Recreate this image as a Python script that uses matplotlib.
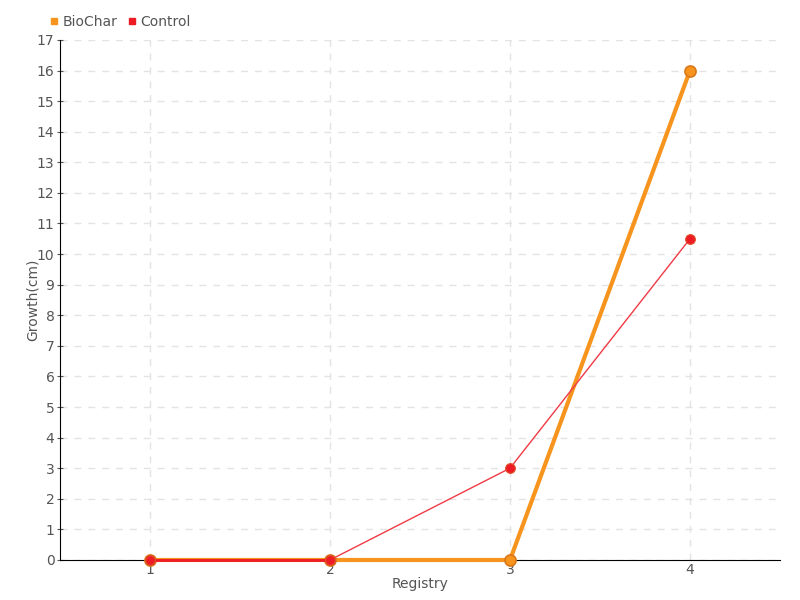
import numpy as np
import matplotlib.pyplot as plt

registry = [1, 2, 3, 4]
biochar = [0, 0, 0, 16]
control = [0, 0, 3, 10.5]

orange = '#f7941d'
red = '#ed1c24'
txt = '#555555'

plt.rcParams['font.family'] = ['DejaVu Sans']

fig = plt.figure(figsize=(8, 6), dpi=100)
ax = fig.add_axes([0.075, 0.0667, 0.9, 0.8667])

ax.plot(registry, biochar, color=orange, lw=3, marker='o', ms=8,
        mfc=orange, mec='#d9781a', mew=1.2, label='BioChar', zorder=3, clip_on=False)
ax.plot(registry, control, color='#f03a45', lw=1, zorder=4, clip_on=False)
ax.plot(registry[:2], control[:2], color=red, lw=2, zorder=4, clip_on=False)
ax.plot(registry, control, ls='', marker='o', ms=7,
        mfc=red, mec='#e0502a', mew=0.8, zorder=5, clip_on=False)

ax.set_xlim(0.5, 4.5)
ax.set_ylim(0, 17)
ax.set_xticks(registry)
ax.set_yticks(np.arange(0, 18, 1))
ax.grid(True, ls=(0, (5, 5)), color='#e3e3e3', lw=1)
ax.set_axisbelow(True)

for s in ['top', 'right']:
    ax.spines[s].set_visible(False)
ax.spines['left'].set_color('black')
ax.spines['bottom'].set_color('black')
ax.tick_params(axis='y', length=4, direction='inout', colors=txt, labelsize=10, pad=2)
ax.tick_params(axis='x', length=0, colors=txt, labelsize=10, pad=2)
for lbl in ax.get_xticklabels() + ax.get_yticklabels():
    lbl.set_color(txt)

ax.set_xlabel('Registry', color=txt, fontsize=10, labelpad=0)
ax.set_ylabel('Growth(cm)', color=txt, fontsize=10, labelpad=-2)

ax.legend(loc='lower left', bbox_to_anchor=(-0.022, 1.01), ncol=2, frameon=False,
          handlelength=0.6, handletextpad=0.3, columnspacing=0.8, fontsize=10,
          labelcolor=txt, borderaxespad=0,
          handles=[plt.Line2D([], [], ls='', marker='s', ms=5, color=orange, label='BioChar'),
                   plt.Line2D([], [], ls='', marker='s', ms=5, color=red, label='Control')])

fig.savefig('out.png')
